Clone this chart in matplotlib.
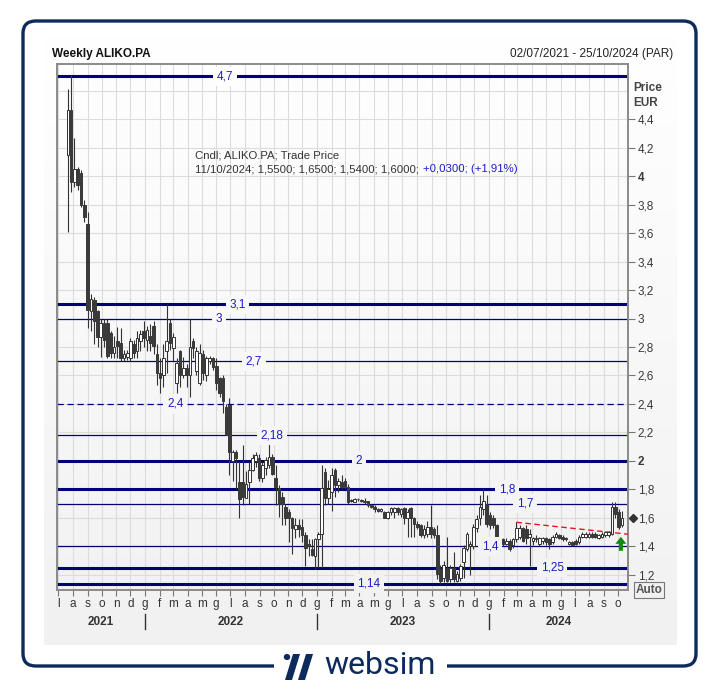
import numpy as np
import pandas as pd
import matplotlib
matplotlib.use('Agg')
import matplotlib.pyplot as plt
import matplotlib.dates as mdates
import matplotlib.transforms as mtransforms
from matplotlib.patches import FancyBboxPatch, Rectangle, Polygon, Circle
from matplotlib.colors import LinearSegmentedColormap

plt.rcParams['font.family'] = ['Liberation Sans', 'DejaVu Sans']

W, H, DPI = 719, 689, 100

# ---------------- data ----------------
dates = pd.date_range('2021-07-21', periods=169, freq='7D')
opens = [4.15, 4.46, 3.96, 4.05, 4.02, 3.80, 3.66, 3.05, 3.13, 3.05,
         2.87, 2.97, 2.97, 2.90, 2.76, 2.84, 2.83, 2.72, 2.73, 2.72,
         2.82, 2.77, 2.84, 2.91, 2.85, 2.88, 2.95, 2.75, 2.62, 2.60,
         2.77, 2.97, 2.79, 2.55, 2.77, 2.60, 2.65, 2.60, 2.84, 2.63,
         2.55, 2.75, 2.60, 2.70, 2.72, 2.67, 2.58, 2.58, 2.38, 2.39,
         2.00, 2.06, 1.85, 1.85, 1.74, 1.85, 1.94, 2.00, 2.02, 1.88,
         1.95, 1.97, 2.03, 1.88, 1.81, 1.75, 1.68, 1.64, 1.60, 1.52,
         1.55, 1.54, 1.48, 1.42, 1.38, 1.33, 1.45, 1.49, 1.92, 1.74,
         1.78, 1.94, 1.83, 1.85, 1.86, 1.82, 1.72, 1.71, 1.73, 1.72,
         1.72, 1.72, 1.69, 1.68, 1.66, 1.65, 1.64, 1.60, 1.64, 1.64,
         1.67, 1.63, 1.67, 1.60, 1.67, 1.60, 1.56, 1.55, 1.48, 1.49,
         1.54, 1.52, 1.48, 1.24, 1.18, 1.25, 1.17, 1.25, 1.16, 1.18,
         1.29, 1.38, 1.40, 1.40, 1.53, 1.60, 1.66, 1.70, 1.62, 1.60,
         1.55, 1.43, 1.45, 1.42, 1.44, 1.41, 1.45, 1.47, 1.53, 1.52,
         1.47, 1.44, 1.46, 1.42, 1.44, 1.46, 1.45, 1.43, 1.47, 1.48,
         1.47, 1.46, 1.42, 1.43, 1.44, 1.43, 1.47, 1.47, 1.47, 1.49,
         1.49, 1.46, 1.47, 1.48, 1.48, 1.49, 1.68, 1.64, 1.55]
highs = [4.61, 4.71, 4.27, 4.06, 4.04, 3.83, 3.75, 3.17, 3.15, 3.06,
         3.00, 3.00, 3.00, 2.91, 2.88, 2.94, 2.93, 2.78, 2.78, 2.86,
         2.85, 2.91, 2.92, 2.98, 2.95, 2.96, 2.98, 2.82, 2.72, 2.82,
         3.10, 3.00, 2.90, 2.72, 2.78, 2.73, 2.68, 3.00, 2.86, 2.80,
         2.82, 2.78, 2.74, 2.74, 2.73, 2.72, 2.59, 2.60, 2.40, 2.44,
         2.08, 2.08, 2.00, 2.11, 1.93, 1.99, 2.05, 2.06, 2.05, 2.00,
         2.03, 2.16, 2.05, 1.97, 1.83, 1.78, 1.70, 1.66, 1.61, 1.60,
         1.59, 1.59, 1.50, 1.45, 1.45, 1.46, 1.50, 1.97, 1.95, 1.87,
         1.95, 1.95, 1.88, 1.90, 1.88, 1.84, 1.73, 1.74, 1.74, 1.73,
         1.74, 1.72, 1.70, 1.69, 1.67, 1.67, 1.65, 1.65, 1.68, 1.68,
         1.68, 1.67, 1.68, 1.66, 1.68, 1.61, 1.58, 1.56, 1.55, 1.58,
         1.69, 1.54, 1.55, 1.27, 1.30, 1.47, 1.27, 1.36, 1.23, 1.28,
         1.41, 1.50, 1.44, 1.56, 1.62, 1.76, 1.80, 1.76, 1.64, 1.62,
         1.56, 1.47, 1.46, 1.46, 1.45, 1.46, 1.57, 1.55, 1.54, 1.55,
         1.52, 1.47, 1.48, 1.47, 1.47, 1.47, 1.46, 1.48, 1.50, 1.49,
         1.48, 1.47, 1.44, 1.44, 1.45, 1.48, 1.50, 1.50, 1.50, 1.50,
         1.50, 1.49, 1.50, 1.51, 1.51, 1.71, 1.71, 1.66, 1.65]
lows = [3.61, 3.89, 3.92, 3.90, 3.78, 3.68, 2.93, 2.91, 2.82, 2.80,
        2.73, 2.80, 2.72, 2.72, 2.72, 2.72, 2.70, 2.70, 2.71, 2.70,
        2.72, 2.72, 2.77, 2.80, 2.77, 2.77, 2.75, 2.53, 2.48, 2.52,
        2.62, 2.78, 2.70, 2.48, 2.52, 2.58, 2.52, 2.45, 2.72, 2.60,
        2.53, 2.57, 2.56, 2.68, 2.64, 2.50, 2.45, 2.34, 2.18, 1.90,
        1.86, 1.80, 1.60, 1.69, 1.74, 1.70, 1.93, 1.96, 1.86, 1.85,
        1.90, 1.95, 1.90, 1.69, 1.61, 1.55, 1.55, 1.43, 1.35, 1.46,
        1.47, 1.43, 1.26, 1.33, 1.33, 1.24, 1.25, 1.25, 1.69, 1.70,
        1.65, 1.75, 1.78, 1.80, 1.80, 1.70, 1.71, 1.71, 1.72, 1.71,
        1.70, 1.68, 1.67, 1.64, 1.64, 1.64, 1.60, 1.59, 1.62, 1.60,
        1.62, 1.61, 1.56, 1.47, 1.47, 1.47, 1.52, 1.47, 1.46, 1.47,
        1.46, 1.46, 1.17, 1.14, 1.15, 1.15, 1.15, 1.15, 1.15, 1.16,
        1.18, 1.37, 1.20, 1.38, 1.50, 1.55, 1.62, 1.54, 1.52, 1.53,
        1.42, 1.41, 1.40, 1.41, 1.37, 1.39, 1.43, 1.45, 1.43, 1.42,
        1.26, 1.41, 1.43, 1.40, 1.42, 1.41, 1.38, 1.42, 1.46, 1.45,
        1.44, 1.44, 1.41, 1.40, 1.41, 1.42, 1.46, 1.46, 1.46, 1.46,
        1.46, 1.45, 1.46, 1.47, 1.47, 1.48, 1.60, 1.52, 1.54]
closes = [4.46, 3.96, 4.05, 3.94, 3.80, 3.71, 3.06, 3.14, 2.98, 2.87,
          2.97, 2.85, 2.74, 2.76, 2.80, 2.81, 2.72, 2.75, 2.76, 2.84,
          2.76, 2.86, 2.89, 2.86, 2.92, 2.83, 2.81, 2.62, 2.58, 2.72,
          2.84, 2.83, 2.87, 2.69, 2.60, 2.65, 2.60, 2.80, 2.79, 2.77,
          2.76, 2.62, 2.72, 2.72, 2.66, 2.55, 2.48, 2.42, 2.18, 2.06,
          2.06, 2.02, 1.73, 1.75, 1.84, 1.94, 2.02, 2.04, 1.88, 1.97,
          2.01, 2.03, 1.91, 1.82, 1.70, 1.70, 1.60, 1.60, 1.53, 1.55,
          1.52, 1.48, 1.39, 1.40, 1.34, 1.45, 1.49, 1.81, 1.74, 1.80,
          1.90, 1.83, 1.86, 1.82, 1.82, 1.71, 1.72, 1.73, 1.73, 1.72,
          1.71, 1.69, 1.68, 1.66, 1.65, 1.66, 1.60, 1.64, 1.67, 1.67,
          1.64, 1.66, 1.60, 1.64, 1.60, 1.56, 1.54, 1.48, 1.52, 1.54,
          1.49, 1.48, 1.21, 1.16, 1.27, 1.16, 1.25, 1.17, 1.21, 1.26,
          1.39, 1.49, 1.42, 1.54, 1.59, 1.68, 1.72, 1.56, 1.55, 1.55,
          1.43, 1.45, 1.42, 1.44, 1.38, 1.45, 1.53, 1.53, 1.44, 1.46,
          1.49, 1.46, 1.45, 1.46, 1.46, 1.43, 1.42, 1.47, 1.49, 1.46,
          1.45, 1.45, 1.43, 1.41, 1.42, 1.47, 1.49, 1.49, 1.49, 1.47,
          1.47, 1.48, 1.49, 1.50, 1.50, 1.68, 1.63, 1.54, 1.60]

level_values = [4.7, 3.1, 3.0, 2.7, 2.4, 2.18, 2.0, 1.8, 1.7, 1.4, 1.25, 1.14]
level_labels = ['4,7', '3,1', '3', '2,7', '2,4', '2,18', '2', '1,8', '1,7', '1,4', '1,25', '1,14']
level_kind = ['thick', 'thick', 'thin', 'thin', 'dash', 'thin', 'thick', 'thick', 'thin', 'thin', 'thick', 'thick']
level_label_pos = [0.294, 0.316, 0.284, 0.345, 0.207, 0.376, 0.529, 0.788, 0.820, 0.758, 0.867, 0.546]

trend_dates = ['2024-02-28', '2024-10-22']
trend_prices = [1.57, 1.486]

ytick_values = [1.2, 1.4, 1.6, 1.8, 2.0, 2.2, 2.4, 2.6, 2.8, 3.0, 3.2, 3.4, 3.6, 3.8, 4.0, 4.2, 4.4]
month_letters = ['g', 'f', 'm', 'a', 'm', 'g', 'l', 'a', 's', 'o', 'n', 'd']
years = [2021, 2022, 2023, 2024]

# ---------------- figure ----------------
fig = plt.figure(figsize=(W / DPI, H / DPI), dpi=DPI, facecolor='white')

def fx(px):
    return px / W

def fy(py):
    return 1 - py / H

NAVY = '#0c2a5c'
FS = 8.5
FS_INFO = 8.2
PANEL_TOP, PANEL_BOT = 36, 645
TOP_RGB = np.array([1.0, 1.0, 1.0])
BOT_RGB = np.array([0xf1, 0xf1, 0xf1]) / 255.0

def bg_at(py):
    t = min(max((py - PANEL_TOP) / (PANEL_BOT - PANEL_TOP), 0), 1)
    return tuple(TOP_RGB + (BOT_RGB - TOP_RGB) * t)

# gradient panel
bg_ax = fig.add_axes([fx(44), fy(PANEL_BOT), fx(677) - fx(44), fy(PANEL_TOP) - fy(PANEL_BOT)])
bg_ax.set_zorder(0.5)
cmap = LinearSegmentedColormap.from_list('bg', [tuple(TOP_RGB), tuple(BOT_RGB)])
bg_ax.imshow(np.linspace(0, 1, 256).reshape(-1, 1), aspect='auto', cmap=cmap,
             extent=(0, 1, 1, 0), interpolation='bilinear')
bg_ax.set_xlim(0, 1); bg_ax.set_ylim(1, 0)
bg_ax.axis('off')

# outer rounded frame
fig.patches.append(FancyBboxPatch((fx(23), fy(666)), fx(696) - fx(23), fy(21) - fy(666),
                                  boxstyle='round,pad=0,rounding_size=0.018',
                                  transform=fig.transFigure, facecolor='none',
                                  edgecolor=NAVY, linewidth=2.4, zorder=1))
fig.patches.append(Rectangle((fx(274), fy(672)), fx(447) - fx(274), fy(660) - fy(672),
                             transform=fig.transFigure, facecolor='white', edgecolor='none', zorder=2))
# websim logo mark
fig.patches.append(Circle((fx(287), fy(657)), 0.0045, transform=fig.transFigure,
                          facecolor=NAVY, edgecolor='none', zorder=3))
for x0 in (293, 306):
    fig.patches.append(Polygon([(fx(x0), fy(654)), (fx(x0 + 7), fy(654)),
                                (fx(x0 - 1), fy(680)), (fx(x0 - 8), fy(680))],
                               closed=True, transform=fig.transFigure,
                               facecolor=NAVY, edgecolor='none', zorder=3))
fig.text(fx(324), fy(665), 'websim', fontsize=23, color=NAVY, family=['Roboto', 'DejaVu Sans'],
         ha='left', va='center', zorder=3)

ax = fig.add_axes([fx(57), fy(590), fx(628) - fx(57), fy(64) - fy(590)])
ax.set_facecolor('none')
ax.set_zorder(4)

x0 = mdates.date2num(pd.Timestamp('2021-06-28'))
x1 = mdates.date2num(pd.Timestamp('2024-10-22'))
ax.set_xlim(x0, x1)
ax.set_ylim(1.0947, 4.786)

xd = mdates.date2num(dates)
o = np.array(opens); h = np.array(highs); l = np.array(lows); c = np.array(closes)
up = c >= o

# grid
ax.set_yticks(ytick_values)
ax.set_yticks([4.6], minor=True)
ax.tick_params(axis='y', which='minor', length=0)
months = pd.date_range('2021-07-01', '2024-10-01', freq='MS')
ax.set_xticks(mdates.date2num(months))
ax.set_xticklabels([month_letters[m.month - 1] for m in months])
ax.grid(True, which='both', color='#dcdcdc', linewidth=0.8, zorder=0)
ax.set_axisbelow(True)

def price_to_py(p):
    return 590 - (p - 1.0947) / (4.786 - 1.0947) * 526

# levels
for v, lab, kind, pos in zip(level_values, level_labels, level_kind, level_label_pos):
    if kind == 'thick':
        ax.axhline(v, color='#00007a', linewidth=2.2, zorder=2)
    elif kind == 'thin':
        ax.axhline(v, color='#00007a', linewidth=0.9, zorder=2)
    else:
        ax.axhline(v, color='#00007a', linewidth=0.9, linestyle=(0, (5, 3)), zorder=2)
    ax.text(pos, v, lab, transform=ax.get_yaxis_transform(), ha='center', va='center',
            fontsize=FS, color='#1c1cc8', zorder=6,
            bbox=dict(boxstyle='square,pad=0.3', facecolor=bg_at(price_to_py(v)), edgecolor='none'))

# trend line
ax.plot(mdates.date2num(pd.to_datetime(trend_dates)), trend_prices, color='#e8141e',
        linewidth=1.0, linestyle=(0, (4, 2.5)), zorder=3)

# candles
ax.vlines(xd, l, h, color='#333333', linewidth=0.8, zorder=4)
bw = 5.6
body_bot = np.minimum(o, c)
body_h = np.maximum(np.abs(c - o), 0.006)
ax.bar(xd[up], body_h[up], bottom=body_bot[up], width=bw, facecolor='white',
       edgecolor='#333333', linewidth=0.7, zorder=5)
ax.bar(xd[~up], body_h[~up], bottom=body_bot[~up], width=bw, facecolor='#3a3a3a',
       edgecolor='#3a3a3a', linewidth=0.7, zorder=5)

# axes styling
for s in ax.spines.values():
    s.set_color('#8a8a8a')
    s.set_linewidth(1.4)
ax.yaxis.tick_right()
ax.set_yticklabels([('%g' % v).replace('.', ',') for v in ytick_values])
for t, v in zip(ax.get_yticklabels(), ytick_values):
    if v in (2.0, 4.0):
        t.set_fontweight('bold')
ax.tick_params(axis='y', which='major', length=5, width=0.8, color='#777777', labelsize=FS,
               labelcolor='#3a3a3a', pad=2)
ax.tick_params(axis='x', length=4, width=0.8, color='#777777', labelsize=FS,
               labelcolor='#333333', pad=2)

# year labels and separators
bt = mtransforms.blended_transform_factory(ax.transData, fig.transFigure)
for yr in years:
    start = max(mdates.date2num(pd.Timestamp(f'{yr}-01-01')), x0)
    end = min(mdates.date2num(pd.Timestamp(f'{yr + 1}-01-01')), x1)
    ax.text((start + end) / 2, fy(622), str(yr), transform=bt, ha='center', va='center',
            fontsize=FS, fontweight='bold', color='#333333')
    if yr > years[0]:
        ax.plot([mdates.date2num(pd.Timestamp(f'{yr}-01-01'))] * 2, [fy(614), fy(629)],
                transform=bt, color='#333333', linewidth=1.0, clip_on=False)

# last price marker
ax.plot([1.008], [closes[-1]], transform=ax.get_yaxis_transform(), marker='D', markersize=4.5,
        color='#333333', clip_on=False, zorder=7)
# green arrow: shape in pixels, anchored below the last candle
arrow_px = np.array([(0, 0), (5.5, 7), (2, 7), (2, 14), (-2, 14), (-2, 7), (-5.5, 7)])
arrow_in = np.column_stack([(arrow_px[:, 0] - 1) / DPI, -arrow_px[:, 1] / DPI])
arrow_tr = fig.dpi_scale_trans + mtransforms.ScaledTranslation(xd[-1], 1.468, ax.transData)
ax.add_patch(Polygon(arrow_in, closed=True, transform=arrow_tr, facecolor='#108a10',
                     edgecolor='none', zorder=7, clip_on=False))

# texts
fig.text(fx(52), fy(54), 'Weekly ALIKO.PA', fontsize=FS, fontweight='bold', color='#111111',
         ha='left', va='center')
fig.text(fx(673), fy(54), '02/07/2021 - 25/10/2024 (PAR)', fontsize=FS, color='#222222',
         ha='right', va='center')
fig.text(fx(633), fy(88), 'Price', fontsize=FS, fontweight='bold', color='#444444', ha='left', va='center')
fig.text(fx(633), fy(103), 'EUR', fontsize=FS, fontweight='bold', color='#444444', ha='left', va='center')
fig.text(fx(195), fy(155), 'Cndl; ALIKO.PA; Trade Price', fontsize=FS_INFO, color='#333333',
         ha='left', va='center', zorder=10)
t_gray = fig.text(fx(195), fy(169), '11/10/2024; 1,5500; 1,6500; 1,5400; 1,6000;', fontsize=FS_INFO,
                  color='#333333', ha='left', va='center', zorder=10)
renderer = fig.canvas.get_renderer()
bb = t_gray.get_window_extent(renderer)
fig.text(bb.x1 / W + 0.006, fy(169), '+0,0300; (+1,91%)', fontsize=FS_INFO, color='#1c1cc8',
         ha='left', va='center', zorder=10)
fig.text(fx(649), fy(590), 'Auto', fontsize=FS, fontweight='bold', color='#555555',
         ha='center', va='center', zorder=10,
         bbox=dict(boxstyle='square,pad=0.15', facecolor='#f1f1f1', edgecolor='#777777', linewidth=0.8))

fig.savefig('out.png', dpi=DPI, facecolor='white')
